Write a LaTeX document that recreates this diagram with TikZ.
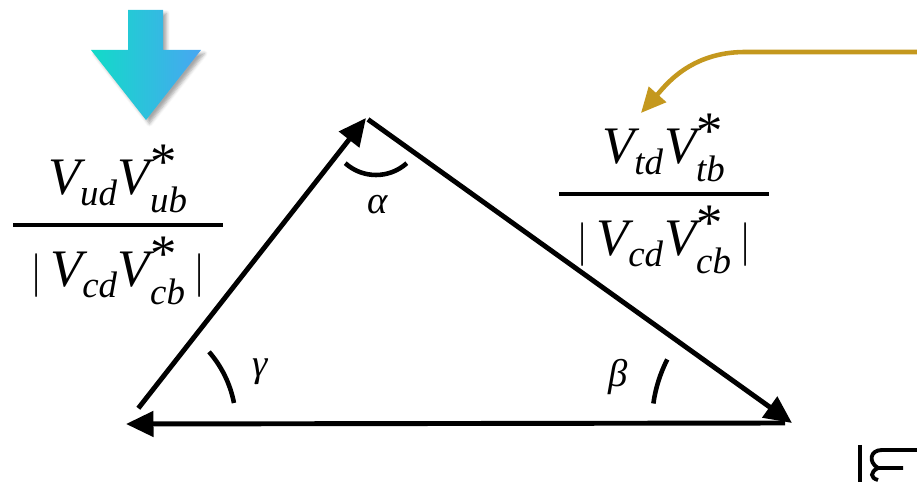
\documentclass[tikz,border=0pt]{standalone}
\usepackage{amsmath}
\usepackage{fontspec}
\setmainfont{Liberation Serif}
\usetikzlibrary{arrows.meta,calc,shadows.blur}
\definecolor{arrowteal}{RGB}{18,219,200}
\definecolor{arrowblue}{RGB}{72,166,242}
\definecolor{golden}{RGB}{196,152,30}
\newcommand{\Vckm}[1]{\textit{V}_{\textit{#1}}}
\newcommand{\Vckmstar}[1]{\textit{V}^{\raisebox{-0.45ex}{\textup{*}}}_{\textit{#1}}}

\begin{document}
\begin{tikzpicture}[x=0.02cm,y=0.02cm,
side/.style={line width=2.8pt,-{Triangle[length=0.55cm,width=0.5cm]}},
anglearc/.style={line width=2.6pt},
ratio/.style={font=\fontsize{30}{36}\selectfont,inner sep=0pt,anchor=base},
angle label/.style={font=\fontsize{22}{26}\selectfont\itshape,inner sep=0pt}]
\useasboundingbox (0,0) rectangle (917,486);
\coordinate (g) at (126,62);
\coordinate (a) at (366,368);
\coordinate (b) at (792,63);
\draw[side,shorten <=0.4cm] (g) -- (a);
\draw[side,shorten <=0.05cm] (a) -- (b);
\draw[side,shorten <=0.14cm] (b) -- (g);
\draw[anglearc] ($(a)+(10,-11)$) ++(228:46) arc[start angle=228,end angle=312,radius=46];
\draw[anglearc] (g) ++(11:110) arc[start angle=11,end angle=41,radius=110];
\draw[anglearc] (b) ++(153:140) arc[start angle=153,end angle=172,radius=140];
\node[angle label] (alpha) at (378,281) {α};
\node[angle label] (gamma) at (260,114) {γ};
\node[angle label] (beta) at (618,109) {β};
\node[ratio] (uside) at (118,250) {$\genfrac{}{}{2pt}{0}{\Vckm{ud}\Vckmstar{ub}}{\hspace{10pt}|\,\Vckm{cd}\Vckmstar{cb}\,|\hspace{10pt}}$};
\node[ratio] (tside) at (664,281) {$\genfrac{}{}{2pt}{0}{\Vckm{td}\Vckmstar{tb}}{\hspace{10pt}|\,\Vckm{cd}\Vckmstar{cb}\,|\hspace{10pt}}$};
\shade[left color=arrowteal,right color=arrowblue,blur shadow={shadow xshift=2pt,shadow yshift=-2pt,shadow opacity=35}]
  (128,476) -- (163,476) -- (163,436) -- (201,436) -- (146,366) -- (91,436) -- (128,436) -- cycle;
\coordinate (goldstart) at (917,434);
\coordinate (goldtip) at (641,373);
\draw[line width=2.6pt,golden,-{Triangle[length=0.5cm,width=0.45cm]}] (goldstart) -- (745,434) .. controls (690,434) and (665,400) .. (goldtip);
\draw[line width=2.2pt] (860,41) -- (860,4);
\draw[line width=2.2pt] (917,36) -- (882,36) .. controls (870,36) and (868,24) .. (878,18) -- (903,18);
\draw[line width=2.2pt] (878,18) .. controls (870,14) and (870,8) .. (878,6);
\end{tikzpicture}
\end{document}
